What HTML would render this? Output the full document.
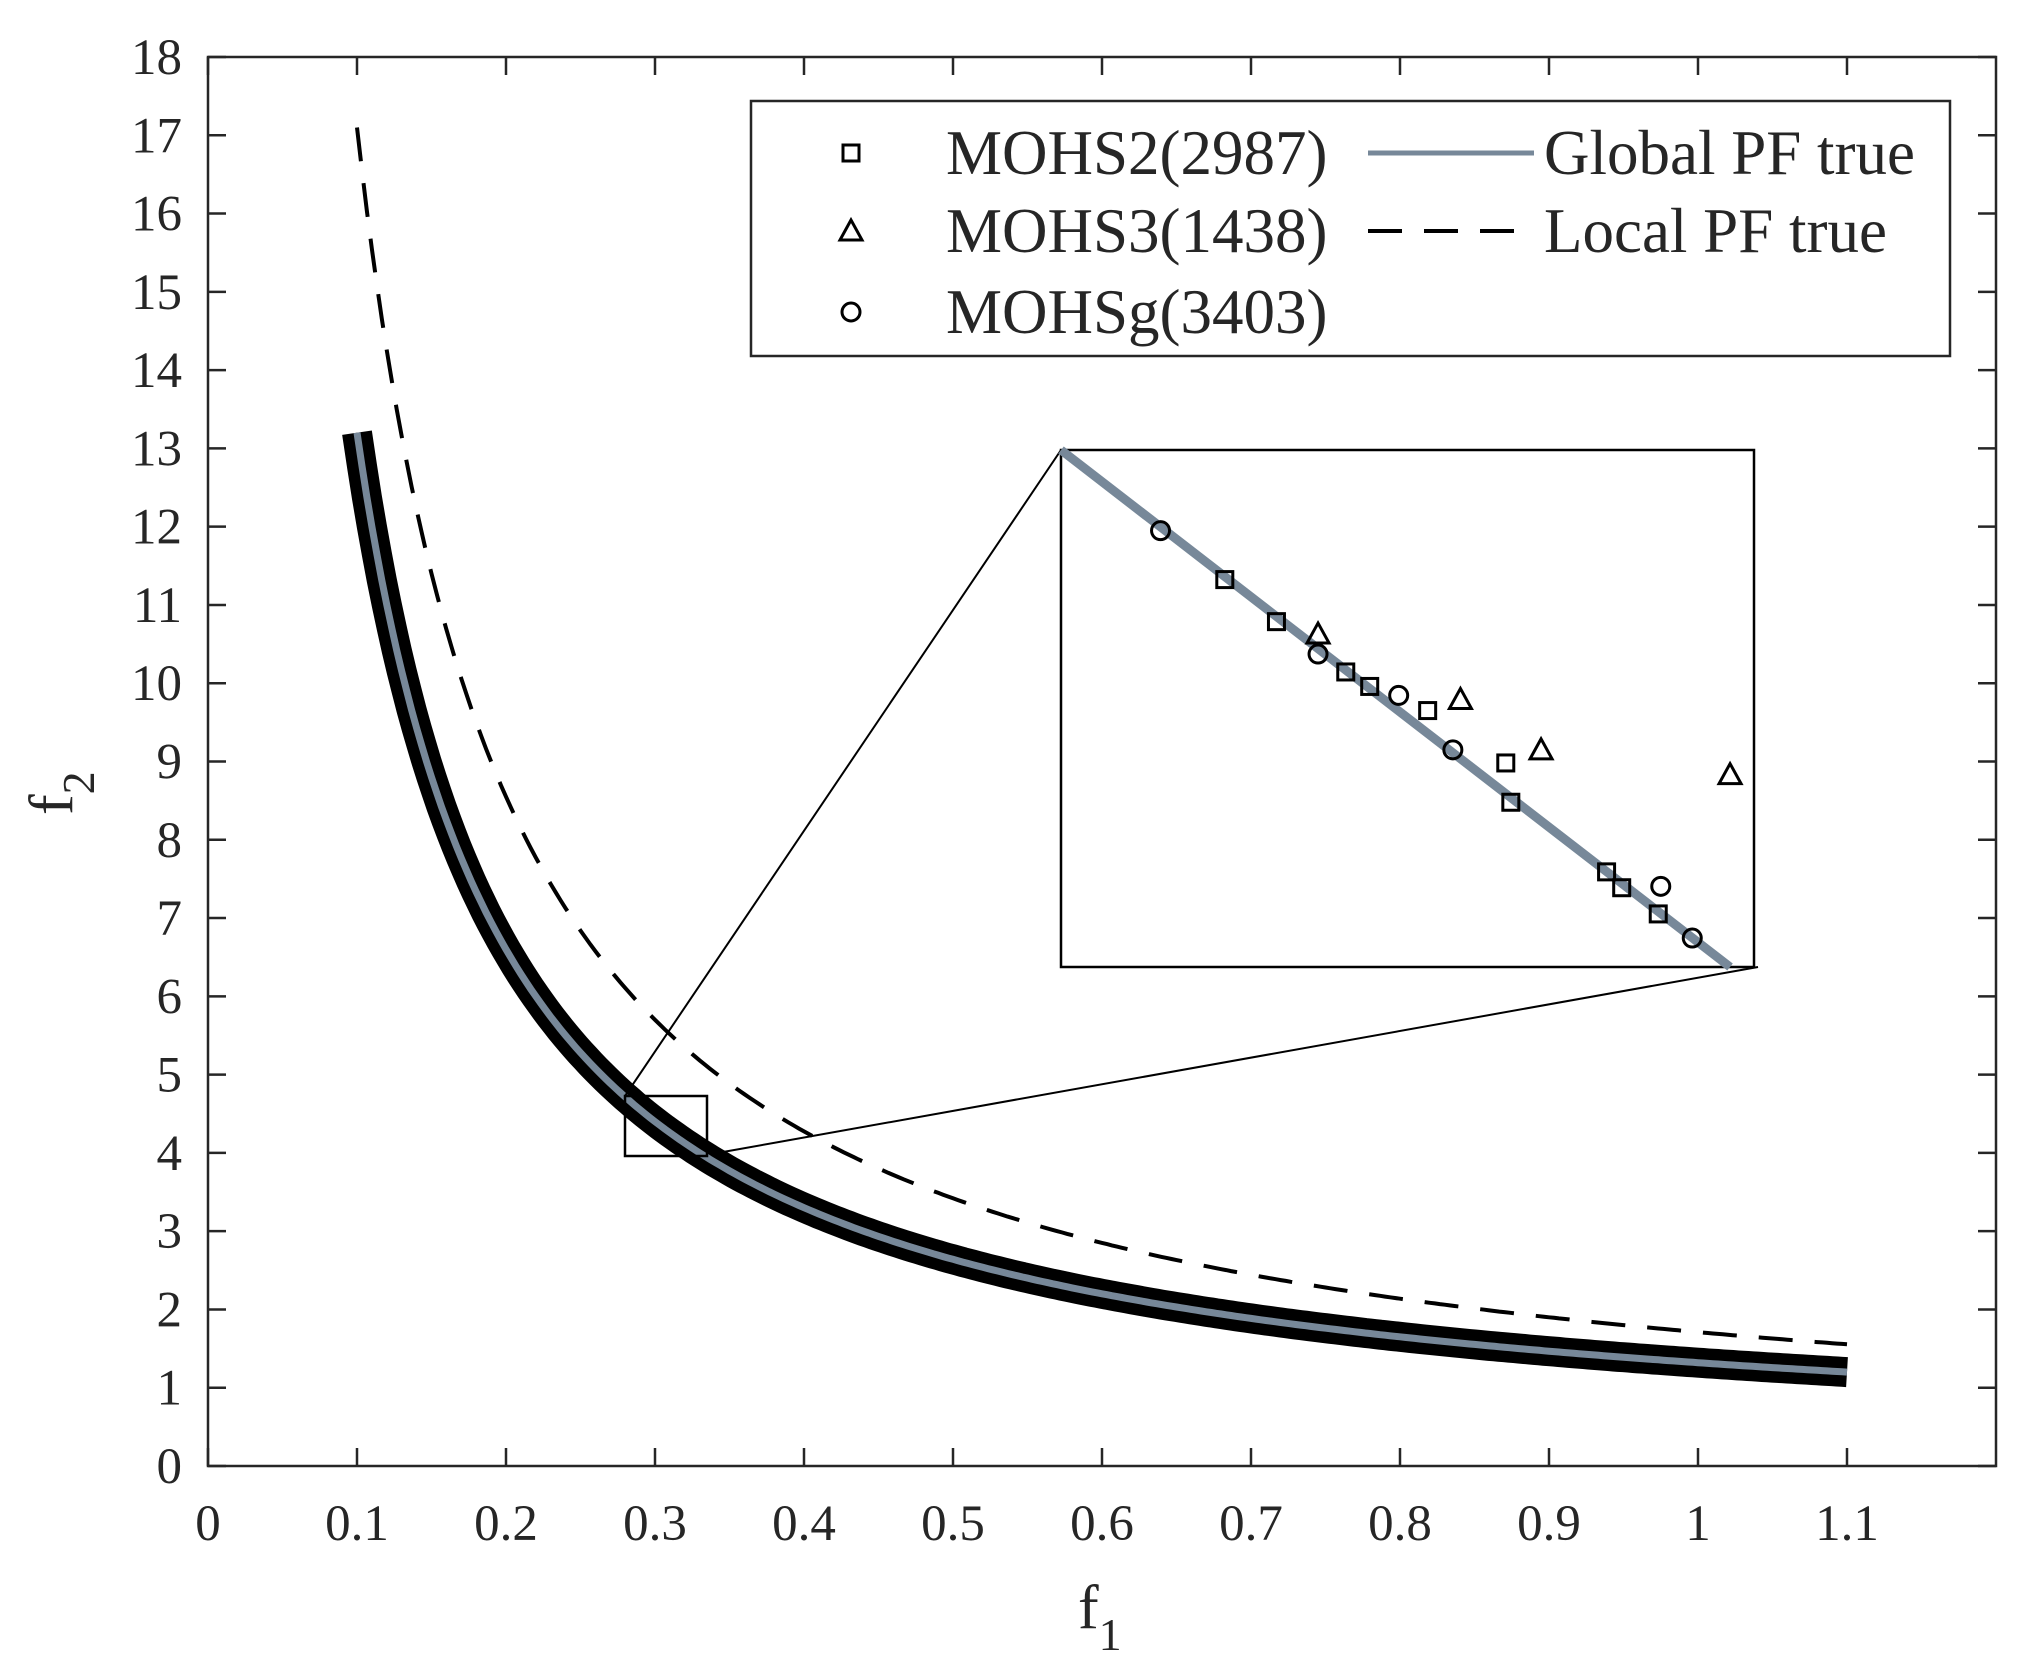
<!DOCTYPE html>
<html><head><meta charset="utf-8"><style>
body{margin:0;background:#fff}
svg{display:block;font-family:"Liberation Serif",serif}
</style></head><body>
<svg id="chart" width="2037" height="1673" viewBox="0 0 2037 1673" xmlns="http://www.w3.org/2000/svg"></svg>
<script>
// ---- data ----
const xTicks=[0,0.1,0.2,0.3,0.4,0.5,0.6,0.7,0.8,0.9,1,1.1];
const yTicks=[0,1,2,3,4,5,6,7,8,9,10,11,12,13,14,15,16,17,18];
const globalCoef=[1.32];
const localCoef=[1.71];
const f1Range=[0.1,1.1];
const zoomX=[0.28,0.335];
const zoomY=[4.0,4.75];
const insetLineX=[0.28,0.3331];
const insetLineY=[4.75,4.0];
const sqX=[0.2930,0.2971,0.3026,0.3045,0.3091,0.3153,0.3157,0.3233,0.3245,0.3274];
const sqY=[4.562,4.501,4.428,4.407,4.372,4.296,4.239,4.138,4.115,4.077];
const triX=[0.3004,0.3117,0.3181,0.3331];
const triY=[4.483,4.388,4.315,4.279];
const circX=[0.2879,0.3004,0.3068,0.3111,0.3276,0.3301];
const circY=[4.633,4.454,4.394,4.315,4.117,4.042];

const svg=document.getElementById('chart');
const NS='http://www.w3.org/2000/svg';
const L=208,R=1996,T=57,B=1466;
const X=v=>L+(v/1.2)*(R-L);
const Y=v=>B-(v/18)*(B-T);
const IL=1061,IR=1754,IT=450,IB=967;
const IX=v=>IL+(v-zoomX[0])/(zoomX[1]-zoomX[0])*(IR-IL);
const IY=v=>IB-(v-zoomY[0])/(zoomY[1]-zoomY[0])*(IB-IT);
function mk(tag,attrs,parent){const e=document.createElementNS(NS,tag);for(const k in attrs)e.setAttribute(k,attrs[k]);(parent||svg).appendChild(e);return e;}
const C='#262626';

function curvePath(c){let d='';for(let i=0;i<=300;i++){const f=f1Range[0]+(f1Range[1]-f1Range[0])*i/300;d+=(i?'L':'M')+X(f).toFixed(1)+','+Y(c/f).toFixed(1);}return d;}
let e=mk('path',{d:curvePath(localCoef[0]),fill:'none',stroke:'#000','stroke-width':4,'stroke-dasharray':'34,22'});


e=mk('path',{d:curvePath(globalCoef[0]),fill:'none',stroke:'#000','stroke-width':30,'stroke-linecap':'butt'});


e=mk('path',{d:curvePath(globalCoef[0]),fill:'none',stroke:'#778899','stroke-width':7});



e=mk('rect',{x:L,y:T,width:R-L,height:B-T,fill:'none',stroke:C,'stroke-width':2.5});


xTicks.forEach(v=>{
  mk('line',{x1:X(v),x2:X(v),y1:B,y2:B-18,stroke:C,'stroke-width':2.5});
  mk('line',{x1:X(v),x2:X(v),y1:T,y2:T+18,stroke:C,'stroke-width':2.5});
  const t=mk('text',{x:X(v),y:B+74,'text-anchor':'middle','font-size':51,fill:C});t.textContent=v;
  
  
});
yTicks.forEach(v=>{
  mk('line',{x1:L,x2:L+18,y1:Y(v),y2:Y(v),stroke:C,'stroke-width':2.5});
  mk('line',{x1:R,x2:R-18,y1:Y(v),y2:Y(v),stroke:C,'stroke-width':2.5});
  const t=mk('text',{x:182,y:Y(v)+17,'text-anchor':'end','font-size':51,fill:C});t.textContent=v;
  
  
});
let t=mk('text',{x:1078,y:1628,'font-size':62,fill:C});t.innerHTML='f<tspan font-size="46" dy="22">1</tspan>';


t=mk('text',{x:0,y:0,'font-size':62,fill:C,transform:'translate(72,815) rotate(-90)'});t.innerHTML='f<tspan font-size="46" dy="22">2</tspan>';



e=mk('rect',{x:625,y:1096,width:82,height:60,fill:'none',stroke:'#000','stroke-width':2.5});


mk('line',{x1:625,y1:1096,x2:IL,y2:IT,stroke:'#000','stroke-width':2});
mk('line',{x1:723,y1:1152,x2:1758,y2:IB,stroke:'#000','stroke-width':2});

const g=mk('g',{});


mk('rect',{x:IL,y:IT,width:IR-IL,height:IB-IT,fill:'#fff',stroke:'#000','stroke-width':2.5},g);
e=mk('line',{x1:IX(insetLineX[0]),y1:IY(insetLineY[0]),x2:IX(insetLineX[1]),y2:IY(insetLineY[1]),stroke:'#778899','stroke-width':9},g);


sqX.forEach((v,i)=>{const p=mk('rect',{x:IX(v)-8,y:IY(sqY[i])-8,width:16,height:16,fill:'none',stroke:'#000','stroke-width':3},g);

});
triX.forEach((v,i)=>{const cx=IX(v),cy=IY(triY[i]);const p=mk('polygon',{points:`${cx},${cy-11} ${cx-11},${cy+9} ${cx+11},${cy+9}`,fill:'none',stroke:'#000','stroke-width':3},g);

});
circX.forEach((v,i)=>{const p=mk('circle',{cx:IX(v),cy:IY(circY[i]),r:9,fill:'none',stroke:'#000','stroke-width':3},g);

});

const lg=mk('g',{});


mk('rect',{x:751,y:101,width:1199,height:255,fill:'#fff',stroke:C,'stroke-width':2.5},lg);
const rows=[153,231,312];
mk('rect',{x:843,y:145,width:16,height:16,fill:'none',stroke:'#000','stroke-width':3},lg);
mk('polygon',{points:'851,220 840,240 862,240',fill:'none',stroke:'#000','stroke-width':3},lg);
mk('circle',{cx:851,cy:312,r:9,fill:'none',stroke:'#000','stroke-width':3},lg);
[['MOHS2(2987)',0],['MOHS3(1438)',1],['MOHSg(3403)',2]].forEach(([s,i])=>{
  const tx=mk('text',{x:946,y:rows[i]+21,'font-size':63,fill:C},lg);tx.textContent=s;
  
  
});
mk('line',{x1:1368,x2:1534,y1:153,y2:153,stroke:'#778899','stroke-width':5},lg);
mk('line',{x1:1368,x2:1534,y1:231,y2:231,stroke:'#000','stroke-width':4,'stroke-dasharray':'34,22'},lg);
[['Global PF true',153],['Local PF true',231]].forEach(([s,y])=>{
  const tx=mk('text',{x:1544,y:y+21,'font-size':63,fill:C},lg);tx.textContent=s;
  
  
});
</script>
</body></html>
